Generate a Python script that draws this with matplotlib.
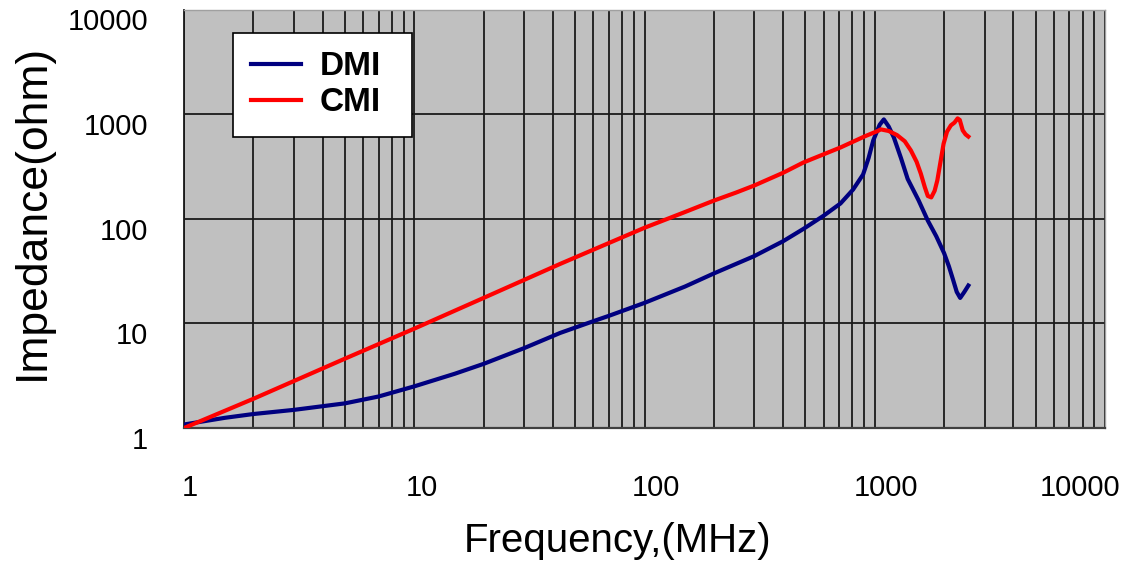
import matplotlib
matplotlib.use("Agg")
import matplotlib.pyplot as plt
import matplotlib.transforms as mtransforms
from matplotlib.ticker import LogLocator, NullFormatter

plt.rcParams['font.family'] = ['Liberation Sans', 'DejaVu Sans']

# DMI curve (frequency MHz, impedance ohm)
dmi_freq = [1, 1.5, 2, 3, 5, 7, 10, 15, 20, 30, 43, 60, 70, 100, 150, 200,
            300, 400, 490, 600, 710, 805, 890, 940, 985, 1050, 1095, 1150,
            1210, 1300, 1390, 1550, 1700, 1850, 2000, 2100, 2190, 2270, 2350,
            2450, 2550]
dmi_imp = [1.08, 1.25, 1.36, 1.49, 1.72, 2.0, 2.5, 3.3, 4.1, 5.8, 8.1, 10.5,
           11.8, 15.7, 22.5, 30, 44, 61, 80, 107, 140, 190, 265, 380, 560, 790,
           890, 760, 600, 380, 240, 150, 96, 68, 47, 35, 26, 20, 17.5, 20, 23]

# CMI curve
cmi_freq = [1, 2, 5, 10, 20, 43, 100, 150, 200, 250, 300, 400, 490, 710,
            900, 1030, 1062, 1150, 1250, 1350, 1435, 1520, 1585, 1650, 1700,
            1760, 1820, 1870, 1930, 1990, 2060, 2140, 2220, 2290, 2340, 2410,
            2480, 2550]
cmi_imp = [1.0, 1.9, 4.6, 8.9, 17.5, 37, 82, 116, 149, 178, 208, 275, 345, 480,
           610, 690, 715, 690, 630, 550, 450, 350, 270, 200, 165, 160, 185, 233,
           350, 520, 680, 780, 830, 910, 880, 700, 640, 610]

xticks = [1, 10, 100, 1000, 10000]
xticklabels = ["1", "10", "100", "1000", "10000"]
yticks = [1, 10, 100, 1000, 10000]
yticklabels = ["1", "10", "100", "1000", "10000"]

fig = plt.figure(figsize=(11.34, 5.65), dpi=100)
ax = fig.add_axes([184 / 1134, 1 - 428 / 565, 921 / 1134, 418.5 / 565])
ax.set_facecolor("#c0c0c0")

ax.plot(dmi_freq, dmi_imp, color="#000080", lw=3, label="DMI", zorder=3)
ax.plot(cmi_freq, cmi_imp, color="#ff0000", lw=3, label="CMI", zorder=3)

ax.set_xscale("log")
ax.set_yscale("log")
ax.set_xlim(1, 10000)
ax.set_ylim(1, 10000)

ax.xaxis.set_minor_locator(LogLocator(base=10, subs=range(2, 10)))
ax.xaxis.set_minor_formatter(NullFormatter())
ax.yaxis.set_minor_formatter(NullFormatter())
ax.set_xticks(xticks)
ax.set_xticklabels(xticklabels)
ax.set_yticks(yticks)
ax.set_yticklabels(yticklabels)
ax.grid(True, which="major", axis="both", color="#1a1a1a", lw=1.3)
ax.grid(True, which="minor", axis="x", color="#1a1a1a", lw=1.3)
ax.set_axisbelow(True)
ax.tick_params(which="both", length=0, labelsize=21)
ax.tick_params(axis="x", pad=33)
ax.tick_params(axis="y", pad=26)

# shift tick labels like the original
x_shift = [6, 8, 11, 11, -25]
for lab, dx in zip(ax.get_xticklabels(), x_shift):
    lab.set_transform(lab.get_transform() +
                      mtransforms.ScaledTranslation(dx / 100, 0, fig.dpi_scale_trans))
for lab in ax.get_yticklabels():
    lab.set_transform(lab.get_transform() +
                      mtransforms.ScaledTranslation(0, -10 / 100, fig.dpi_scale_trans))

for s in ["top", "right"]:
    ax.spines[s].set_color("#a0a0a0")
    ax.spines[s].set_linewidth(1)
ax.spines["left"].set_color("#1a1a1a")
ax.spines["left"].set_linewidth(1.3)
ax.spines["bottom"].set_color("#404040")
ax.spines["bottom"].set_linewidth(1.6)

ax.set_xlabel("Frequency,(MHz)", fontsize=29)
ax.set_ylabel("Impedance(ohm)", fontsize=32)
ax.xaxis.set_label_coords((618 - 184) / 921, (428 - 522) / 418.5)
ax.yaxis.set_label_coords((53 - 184) / 921, (428 - 212) / 418.5)

leg = ax.legend(loc="upper left",
                bbox_to_anchor=((233 - 184) / 921, (428 - 147) / 418.5,
                                (412 - 233) / 921, (147 - 33) / 418.5),
                mode="expand", frameon=True, fancybox=False,
                prop={"weight": "bold", "size": 24},
                handlelength=1.5, handletextpad=0.55, labelspacing=0.15,
                borderpad=0.55, borderaxespad=0)
leg.get_frame().set_edgecolor("black")
leg.get_frame().set_linewidth(1.2)
leg.get_frame().set_facecolor("white")
leg.get_frame().set_alpha(1)

fig.savefig("out.png", dpi=100)
